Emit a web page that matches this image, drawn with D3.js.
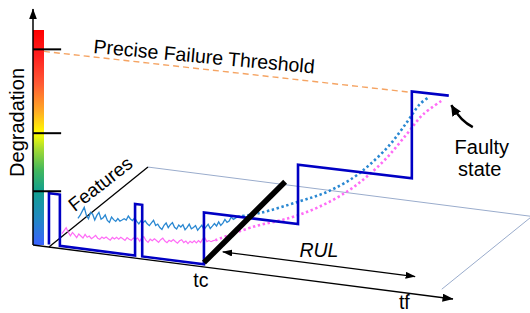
<!DOCTYPE html>
<html><head><meta charset="utf-8">
<script src="https://cdn.jsdelivr.net/npm/d3@7"></script>
<style>html,body{margin:0;padding:0;background:#fff;} svg{display:block;font-family:"Liberation Sans",Arial,sans-serif;}</style>
</head><body><svg id="c" width="530" height="313"></svg>
<script>
// ---------------- data ----------------
const timeTicks = [40.7, 86.5];
const timeTickLabels = ["tc", "tf"];
const levelTicks = [0.25, 0.52, 0.91];
const failureThreshold = 0.906;
const featureAxisT = 3.8;
const floorEndT = 95.2;

// health-state signal (time, degradation level)
const healthT = [3.8, 3.8, 6.4, 6.4, 24.3, 24.3, 26.0, 26.0, 40.7, 40.7, 63.1, 63.1, 90.2, 90.2, 99];
const healthV = [0.012, 0.25, 0.25, 0.012, 0.012, 0.25, 0.25, 0.012, 0.012, 0.25, 0.25, 0.52, 0.52, 0.91, 0.91];

// measured features (sampled every 0.5 time units)
const sampleStep = 0.5;
const blueStartT = 10.7;
const blueFeature = [0.150,0.165,0.185,0.205,0.170,0.155,0.185,0.178,0.152,0.175,0.190,0.160,0.168,0.182,0.158,0.150,
  0.176,0.165,0.158,0.172,0.162,0.168,0.175,0.170,0.190,0.178,0.172,0.185,0.170,0.160,0.176,0.168,0.178,0.165,0.158,
  0.172,0.185,0.162,0.170,0.155,0.148,0.168,0.180,0.160,0.175,0.185,0.165,0.158,0.178,0.170,0.182,0.160,0.172,0.188,
  0.168,0.175,0.185,0.165,0.178,0.190,0.172,0.185,0.198,0.180,0.192,0.205,0.195,0.215,0.200,0.212,0.230,0.218,0.225,
  0.245,0.235,0.242,0.249];
const pinkStartT = 6.9;
const pinkFeature = [0.070,0.085,0.100,0.080,0.065,0.082,0.072,0.060,0.078,0.070,0.062,0.080,0.068,0.075,0.064,0.072,
  0.082,0.070,0.066,0.078,0.072,0.080,0.074,0.068,0.082,0.076,0.085,0.078,0.088,0.082,0.076,0.090,0.084,0.080,0.092,
  0.086,0.094,0.080,0.098,0.104,0.088,0.080,0.096,0.090,0.100,0.094,0.086,0.100,0.108,0.096,0.090,0.102,0.098,0.108,
  0.100,0.094,0.106,0.112,0.100,0.108,0.098,0.110,0.104,0.114,0.106,0.118,0.110,0.128,0.134,0.118,0.124,0.120,0.126,0.129];

// predicted trends (dotted)
const blueTrendT = [48.7, 54.05, 63.1, 70.0, 76.2, 80.2, 85.0, 89.05, 92.1, 94.3];
const blueTrendV = [0.249, 0.279, 0.351, 0.412, 0.490, 0.559, 0.660, 0.770, 0.857, 0.894];
const pinkTrendT = [43.4, 52.4, 61.2, 68.3, 74.8, 79.5, 84.3, 89.0, 92.9, 97.6];
const pinkTrendV = [0.129, 0.212, 0.274, 0.342, 0.425, 0.503, 0.600, 0.716, 0.813, 0.888];

// colour bar
const colorStopV = [0, 0.12, 0.25, 0.35, 0.45, 0.52, 0.62, 0.75, 0.88, 1];
const colorStopC = ["#3a62ff","#2288c4","#12a08e","#44b85c","#a8dc30","#ffff00","#ffac24","#ff5a34","#ff2020","#ff0000"];

// ---------------- drawing ----------------
const svg = d3.select("#c");
const x = d3.scaleLinear().domain([0, 100]).range([33, 453]);
const y = d3.scaleLinear().domain([0, 1]).range([245, 30]);
const tilt = d3.scaleLinear().domain([0, 1]).range([0.1286, 0.1096]);
const DEPTH = [99, -80];
function P(t, v, d = 0) {
  const sx = x(t);
  return [sx + DEPTH[0] * d, y(v) + (sx - x(0)) * tilt(v) + DEPTH[1] * d];
}
const line = d3.line();

const defs = svg.append("defs");
function marker(id, len, wid, color) {
  defs.append("marker").attr("id", id)
    .attr("viewBox", `0 ${-wid / 2} ${len} ${wid}`)
    .attr("refX", len - 0.5).attr("refY", 0)
    .attr("markerWidth", len).attr("markerHeight", wid)
    .attr("markerUnits", "userSpaceOnUse").attr("orient", "auto-start-reverse")
    .append("path").attr("d", `M0,${-wid / 2}L${len},0L0,${wid / 2}Z`).attr("fill", color);
}
marker("arBig", 11, 8, "#000");
marker("arMid", 10, 7, "#000");
marker("arCurve", 11, 10, "#000");

const grad = defs.append("linearGradient").attr("id", "cb")
  .attr("x1", 0).attr("y1", 1).attr("x2", 0).attr("y2", 0);
colorStopV.forEach((v, i) => grad.append("stop").attr("offset", v).attr("stop-color", colorStopC[i]));

// colour bar
svg.append("rect").attr("x", x(0)).attr("y", y(1)).attr("width", 11).attr("height", y(0) - y(1))
  .attr("fill", "url(#cb)");

// floor plane edges
const floorColor = "#9aaccc";
svg.append("path").attr("d", line([P(featureAxisT, 0, 1), P(floorEndT, 0, 1), P(floorEndT, 0, 0.09)]))
  .attr("fill", "none").attr("stroke", floorColor).attr("stroke-width", 1);

// features axis
svg.append("path").attr("d", line([P(featureAxisT, 0, 0), P(featureAxisT, 0, 1)]))
  .attr("stroke", "#000").attr("stroke-width", 1.3);

// threshold
svg.append("path").attr("d", line([P(2.6, failureThreshold), P(90.2, failureThreshold)]))
  .attr("stroke", "#f5a463").attr("stroke-width", 1.4).attr("stroke-dasharray", "6,4").attr("fill", "none");

// features
const blueC = "#2a88d2", pinkC = "#ff6cf6";
svg.append("path").attr("d", line(blueFeature.map((v, i) => P(blueStartT + i * sampleStep, v))))
  .attr("fill", "none").attr("stroke", blueC).attr("stroke-width", 1.3);
svg.append("path").attr("d", line(pinkFeature.map((v, i) => P(pinkStartT + i * sampleStep, v))))
  .attr("fill", "none").attr("stroke", pinkC).attr("stroke-width", 1.2);

// trends
const smooth = d3.line().curve(d3.curveCatmullRom);
svg.append("path").attr("d", smooth(blueTrendT.map((t, i) => P(t, blueTrendV[i]))))
  .attr("fill", "none").attr("stroke", blueC).attr("stroke-width", 2.6).attr("stroke-dasharray", "2.4,2.6");
svg.append("path").attr("d", smooth(pinkTrendT.map((t, i) => P(t, pinkTrendV[i]))))
  .attr("fill", "none").attr("stroke", pinkC).attr("stroke-width", 2.6).attr("stroke-dasharray", "2.4,2.6");

// health state
svg.append("path").attr("d", line(healthT.map((t, i) => P(t, healthV[i]))))
  .attr("fill", "none").attr("stroke", "#0000c4").attr("stroke-width", 2.6).attr("stroke-linejoin", "miter");

// tc marker
svg.append("path").attr("d", line([P(timeTicks[0], 0.02, 0), P(timeTicks[0], 0.09, 0.82)]))
  .attr("stroke", "#000").attr("stroke-width", 5.5);

// vertical axis
svg.append("path").attr("d", line([[x(0), y(0)], [x(0), y(1.098)]]))
  .attr("stroke", "#000").attr("stroke-width", 1.5).attr("marker-end", "url(#arBig)");
// level ticks
levelTicks.forEach(v => {
  svg.append("path").attr("d", line([[x(0), y(v)], [x(6.7), y(v)]]))
    .attr("stroke", "#000").attr("stroke-width", 2);
});
// time axis
svg.append("path").attr("d", line([P(0, 0), P(100, 0)]))
  .attr("stroke", "#000").attr("stroke-width", 1.3).attr("marker-end", "url(#arBig)");
// RUL arrow
svg.append("path").attr("d", line([P(timeTicks[0], 0, 0.19), P(timeTicks[1], 0, 0.19)]))
  .attr("stroke", "#000").attr("stroke-width", 1.3)
  .attr("marker-start", "url(#arMid)").attr("marker-end", "url(#arMid)");

// texts
const fs = 19.5;
timeTicks.forEach((t, i) => {
  const p = P(t, 0);
  svg.append("text").attr("x", p[0] + (i === 0 ? -3 : 8)).attr("y", p[1] + (i === 0 ? 20 : 17))
    .attr("text-anchor", "middle").attr("font-size", fs).text(timeTickLabels[i]);
});
const rulP = P((timeTicks[0] + timeTicks[1]) / 2, 0, 0.19);
svg.append("text").attr("x", rulP[0]).attr("y", rulP[1] - 7).attr("text-anchor", "middle")
  .attr("font-size", fs).attr("font-style", "italic").text("RUL");

const thP = P(14.3, failureThreshold);
svg.append("text").attr("transform", `translate(${thP[0]},${thP[1] - 4}) rotate(5.3)`)
  .attr("font-size", fs).text("Precise Failure Threshold");

svg.append("text").attr("transform", `translate(24,${(y(0.57))}) rotate(-90)`)
  .attr("text-anchor", "middle").attr("font-size", 20).text("Degradation");

const fP = P(featureAxisT, 0, 0.55);
svg.append("text").attr("transform", `translate(${fP[0] + 1},${fP[1] - 14}) rotate(-38)`)
  .attr("text-anchor", "middle").attr("font-size", 19).text("Features");

const endP = P(healthT[healthT.length - 1], healthV[healthV.length - 1]);
svg.append("text").attr("x", endP[0] + 33).attr("y", endP[1] + 58).attr("text-anchor", "middle")
  .attr("font-size", 20).text("Faulty");
svg.append("text").attr("x", endP[0] + 31).attr("y", endP[1] + 80).attr("text-anchor", "middle")
  .attr("font-size", 20).text("state");
svg.append("path")
  .attr("d", `M${endP[0] + 24},${endP[1] + 31.5} Q${endP[0] + 12},${endP[1] + 25.5} ${endP[0] + 2.5},${endP[1] + 9.5}`)
  .attr("fill", "none").attr("stroke", "#000").attr("stroke-width", 2.5).attr("marker-end", "url(#arCurve)");
</script></body></html>
